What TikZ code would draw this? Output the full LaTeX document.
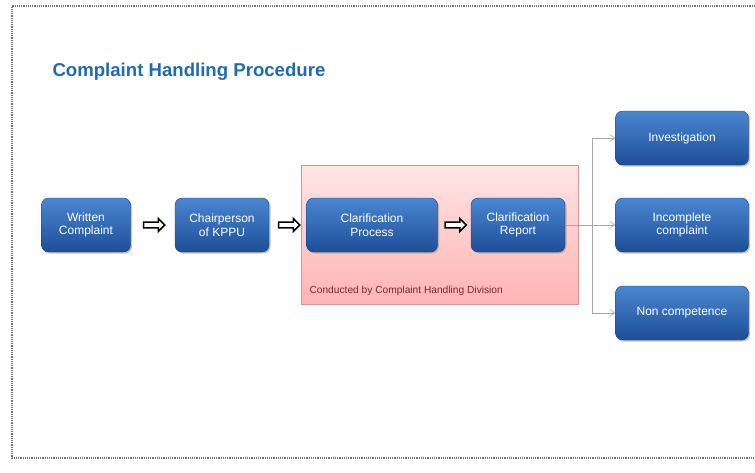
\documentclass[tikz,border=0pt]{standalone}
\usepackage{fontspec}
\setmainfont{Liberation Sans}
\usetikzlibrary{shapes.arrows,shadows,calc,arrows.meta}

\definecolor{boxtop}{HTML}{4A86D0}
\definecolor{boxbot}{HTML}{1D4F98}
\definecolor{titleblue}{HTML}{1F6AB4}
\definecolor{pinktop}{HTML}{FFE4E4}
\definecolor{pinkbot}{HTML}{FFB4B4}
\definecolor{pinkline}{HTML}{E09090}
\definecolor{divtext}{HTML}{7A2A2A}

\tikzset{
  stepbox/.style={rectangle, rounded corners=7pt, top color=boxtop, bottom color=boxbot,
    draw=boxbot!80!black, line width=0.4pt, text=white, align=center,
    font=\fontsize{12}{13.5}\selectfont, inner sep=0pt,
    drop shadow={shadow xshift=1.5pt, shadow yshift=-1.5pt, fill=black!45, opacity=0.5}},
  hollowarrow/.style={single arrow, draw=black, fill=white, line width=1.5pt,
    minimum height=21pt, single arrow head extend=3.5pt, inner sep=2.2pt},
  branch/.style={draw=black!35, line width=0.6pt},
}

\begin{document}
\begin{tikzpicture}[x=1pt,y=-1pt]
\useasboundingbox (0,0) rectangle (755,472);

% frame
\draw[black!55, densely dotted, line width=1.2pt] (755,6) -- (12,6) -- (12,458) -- (755,458);

% title
\node[anchor=west, text=titleblue, font=\bfseries\fontsize{18.6}{20}\selectfont] (title) at (49,72) {Complaint Handling Procedure};

% division area
\node[draw=pinkline, top color=pinktop, bottom color=pinkbot, minimum width=277pt, minimum height=139pt, anchor=north west] (division) at (301,165) {};
\node[anchor=west, text=divtext, font=\fontsize{10.2}{12}\selectfont] (divlabel) at (306,291) {Conducted by Complaint Handling Division};

% main boxes
\node[stepbox, minimum width=89pt, minimum height=54pt] (written) at (86,225) {Written\\Complaint};
\node[stepbox, minimum width=94pt, minimum height=54pt] (chair) at (222,225) {Chairperson\\of KPPU};
\node[stepbox, minimum width=131pt, minimum height=54pt] (process) at (372,225) {Clarification\\Process};
\node[stepbox, minimum width=94pt, minimum height=54pt] (report) at (518,225) {Clarification\\Report};

\node[stepbox, minimum width=133pt, minimum height=54pt] (invest) at (682,138) {Investigation};
\node[stepbox, minimum width=133pt, minimum height=54pt] (incomplete) at (682,225) {Incomplete\\complaint};
\node[stepbox, minimum width=133pt, minimum height=54pt] (noncomp) at (682,313) {Non competence};

% hollow arrows
\node[hollowarrow] (arr1) at ($(written.east)!0.5!(chair.west)$) {};
\node[hollowarrow] (arr2) at ($(chair.east)!0.5!(process.west)$) {};
\node[hollowarrow] (arr3) at ($(process.east)!0.5!(report.west)$) {};

% branches
\coordinate (fork) at (592,225);
\draw[branch] (report.east) -- (fork);
\draw[branch, -{Straight Barb[length=5pt,width=7pt]}] (fork) |- (invest.west);
\draw[branch, -{Straight Barb[length=5pt,width=7pt]}] (fork) -- (incomplete.west);
\draw[branch, -{Straight Barb[length=5pt,width=7pt]}] (fork) |- (noncomp.west);
\end{tikzpicture}
\end{document}
